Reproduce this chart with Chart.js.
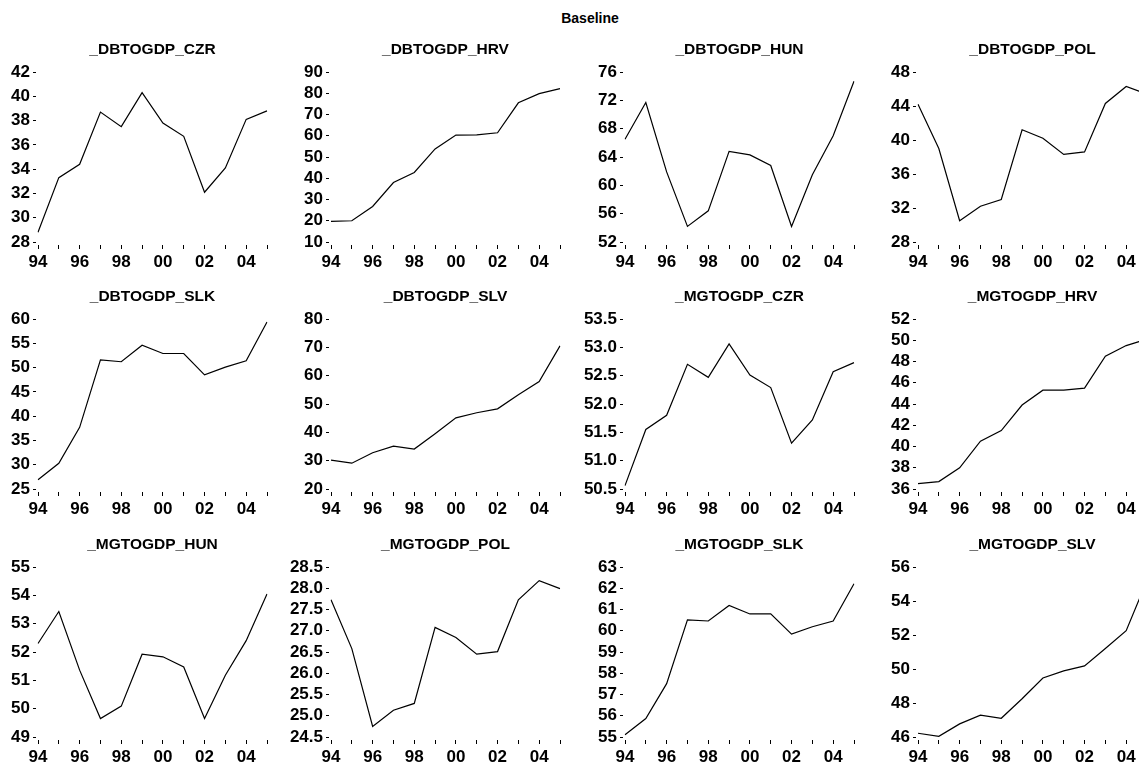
<!DOCTYPE html>
<html>
<head>
<meta charset="utf-8">
<script src="https://cdn.jsdelivr.net/npm/chart.js@4.4.1/dist/chart.umd.min.js"></script>
<style>
  html, body { margin: 0; padding: 0; background: #fff; }
  body { position: relative; width: 1139px; height: 763px; overflow: hidden; }
  #main-title {
    position: absolute; left: 540px; width: 100px; top: 10px; line-height: 18px;
    text-align: center; color: #000;
    font: bold 14px 'Liberation Sans', Arial, sans-serif;
  }
  canvas { position: absolute; }
</style>
</head>
<body>
<div id="main-title">Baseline</div>
<script>
// Years on the horizontal axis (1994-2005)
const years = ['94', '95', '96', '97', '98', '99', '00', '01', '02', '03', '04', '05'];

// Debt-to-GDP series
const dbtogdpCZR = [28.8, 33.3, 34.4, 38.7, 37.5, 40.3, 37.8, 36.7, 32.1, 34.1, 38.1, 38.8];
const dbtogdpHRV = [19.7, 20.0, 26.7, 38.0, 42.7, 53.8, 60.3, 60.4, 61.4, 75.5, 79.8, 82.2];
const dbtogdpHUN = [66.5, 71.7, 61.9, 54.2, 56.4, 64.8, 64.3, 62.8, 54.2, 61.5, 67.0, 74.7];
const dbtogdpPOL = [44.2, 39.0, 30.5, 32.2, 33.0, 41.2, 40.2, 38.3, 38.6, 44.3, 46.3, 45.4];
const dbtogdpSLK = [26.9, 30.3, 37.7, 51.6, 51.2, 54.6, 52.9, 52.9, 48.5, 50.1, 51.4, 59.4];
const dbtogdpSLV = [30.2, 29.1, 32.8, 35.1, 34.1, 39.5, 45.1, 46.9, 48.3, 53.3, 57.9, 70.5];

// Imports-to-GDP series
const mgtogdpCZR = [50.56, 51.55, 51.80, 52.70, 52.47, 53.06, 52.51, 52.29, 51.31, 51.72, 52.57, 52.73];
const mgtogdpHRV = [36.5, 36.7, 38.0, 40.5, 41.5, 43.9, 45.3, 45.3, 45.5, 48.5, 49.5, 50.1];
const mgtogdpHUN = [52.30, 53.43, 51.36, 49.65, 50.09, 51.92, 51.83, 51.47, 49.65, 51.18, 52.40, 54.05];
const mgtogdpPOL = [27.73, 26.58, 24.75, 25.13, 25.29, 27.08, 26.84, 26.45, 26.51, 27.73, 28.18, 27.99];
const mgtogdpSLK = [55.11, 55.87, 57.51, 60.51, 60.46, 61.19, 60.79, 60.80, 59.84, 60.19, 60.46, 62.21];
const mgtogdpSLV = [46.22, 46.04, 46.77, 47.28, 47.10, 48.25, 49.47, 49.89, 50.18, 51.21, 52.25, 55.2];

const panelTitles = [
  '_DBTOGDP_CZR', '_DBTOGDP_HRV', '_DBTOGDP_HUN', '_DBTOGDP_POL',
  '_DBTOGDP_SLK', '_DBTOGDP_SLV', '_MGTOGDP_CZR', '_MGTOGDP_HRV',
  '_MGTOGDP_HUN', '_MGTOGDP_POL', '_MGTOGDP_SLK', '_MGTOGDP_SLV'
];
const panelSeries = [
  dbtogdpCZR, dbtogdpHRV, dbtogdpHUN, dbtogdpPOL,
  dbtogdpSLK, dbtogdpSLV, mgtogdpCZR, mgtogdpHRV,
  mgtogdpHUN, mgtogdpPOL, mgtogdpSLK, mgtogdpSLV
];

// Vertical axis ranges and tick spacing for each panel
const yMin  = [28, 10, 52, 28, 25, 20, 50.5, 36, 49, 24.5, 55, 46];
const yMax  = [42, 90, 76, 48, 60, 80, 53.5, 52, 55, 28.5, 63, 56];
const yStep = [2, 10, 4, 4, 5, 10, 0.5, 2, 1, 0.5, 1, 2];

// Grid geometry: left / top edge of each plot area, and plot size
const colLeft = [38, 331, 625, 918];
const rowTop = [72, 319, 567];
const plotW = 229, plotH = 170;
const yAxisW = 45, titleSpace = 60, xAxisH = 30, rightPad = 6;

const FONT = "'Liberation Sans', Arial, Helvetica, sans-serif";
Chart.defaults.font.family = FONT;
Chart.defaults.color = '#000';

panelTitles.forEach((title, i) => {
  const col = i % 4, row = Math.floor(i / 4);
  const canvas = document.createElement('canvas');
  const w = yAxisW + plotW + rightPad;
  const h = titleSpace + plotH + xAxisH;
  canvas.width = w; canvas.height = h;
  canvas.style.width = w + 'px'; canvas.style.height = h + 'px';
  canvas.style.left = (colLeft[col] - yAxisW) + 'px';
  canvas.style.top = (rowTop[row] - titleSpace) + 'px';
  document.body.appendChild(canvas);

  const decimals = yStep[i] < 1 ? 1 : 0;
  const titleSize = 15.5, titleLine = titleSize * 1.2;
  const titleGap = 22.5 - titleLine / 2;          // title centre sits 22.5px above plot
  const padTop = titleSpace - titleLine - titleGap;

  new Chart(canvas, {
    type: 'line',
    data: {
      labels: years,
      datasets: [{
        data: panelSeries[i],
        borderColor: '#000',
        borderWidth: 1.2,
        pointRadius: 0,
        tension: 0,
        fill: false
      }]
    },
    options: {
      responsive: false,
      animation: false,
      devicePixelRatio: 1,
      layout: { padding: { top: padTop, left: 0, right: rightPad, bottom: 0 } },
      plugins: {
        legend: { display: false },
        tooltip: { enabled: false },
        title: {
          display: true,
          text: title,
          fullSize: false,
          color: '#000',
          font: { size: titleSize, weight: 'bold', family: FONT },
          padding: { top: 0, bottom: titleGap }
        }
      },
      scales: {
        x: {
          type: 'category',
          offset: false,
          border: { display: false },
          grid: {
            display: true,
            drawOnChartArea: false,
            drawTicks: true,
            tickLength: 7,
            tickColor: '#000',
            tickWidth: 1,
            tickBorderDash: [0, 3, 4, 30]
          },
          ticks: {
            autoSkip: false,
            maxRotation: 0,
            minRotation: 0,
            padding: 3,
            color: '#000',
            font: { size: 17, weight: 'bold', family: FONT },
            callback: function (value, index) {
              return index % 2 === 0 ? this.getLabelForValue(value) : '';
            }
          },
          afterFit: (scale) => { scale.height = xAxisH; }
        },
        y: {
          min: yMin[i],
          max: yMax[i],
          border: { display: false },
          grid: {
            display: true,
            drawOnChartArea: false,
            drawTicks: true,
            tickLength: 5,
            tickColor: '#000',
            tickWidth: 1,
            tickBorderDash: [3, 30]
          },
          ticks: {
            autoSkip: false,
            stepSize: yStep[i],
            padding: 3,
            color: '#000',
            font: { size: 17, weight: 'bold', family: FONT },
            callback: (value) => Number(value).toFixed(decimals)
          },
          afterFit: (scale) => { scale.width = yAxisW; }
        }
      }
    }
  });
});
</script>
</body>
</html>
